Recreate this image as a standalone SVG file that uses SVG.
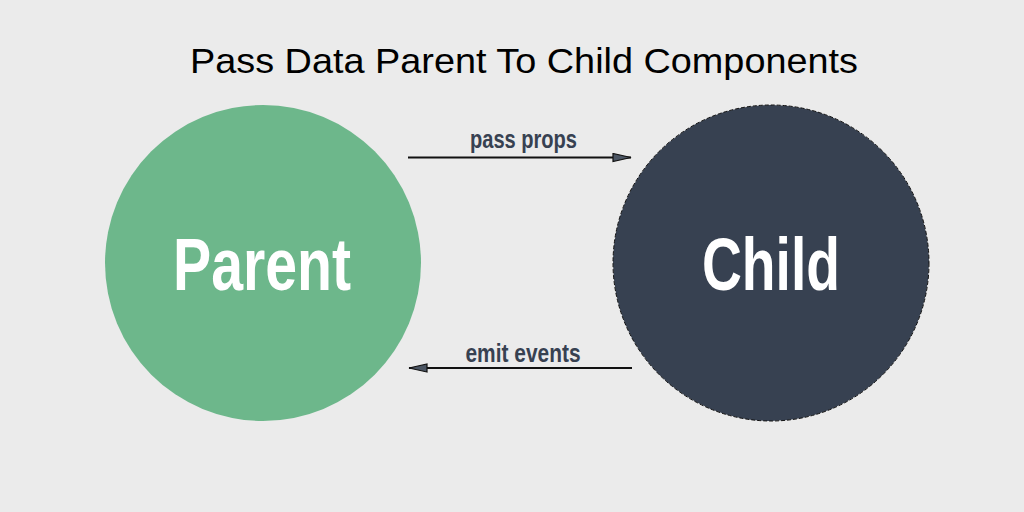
<svg xmlns="http://www.w3.org/2000/svg" width="1024" height="512" viewBox="0 0 1024 512">
  <style>
    .title { font-family: "Liberation Sans", Arial, sans-serif; font-size: 35px; fill: #000; }
    .node-label { font-family: "Liberation Sans", Arial, sans-serif; font-weight: bold; font-size: 75px; fill: #ffffff; }
    .edge-label { font-family: "Liberation Sans", Arial, sans-serif; font-weight: bold; font-size: 25px; fill: #374151; }
    .edge { stroke: #111; stroke-width: 2; fill: none; }
  </style>
  <defs>
    <marker id="arrow" viewBox="0 0 20 10" refX="19" refY="5" markerWidth="20" markerHeight="10" markerUnits="userSpaceOnUse" orient="auto">
      <path d="M1,1 L19,5 L1,9 Z" fill="#4b5563" stroke="#111" stroke-width="1.2"/>
    </marker>
  </defs>
  <rect width="1024" height="512" fill="#ebebeb"/>
  <text class="title" x="524" y="73" text-anchor="middle" textLength="668" lengthAdjust="spacingAndGlyphs">Pass Data Parent To Child Components</text>

  <g id="parent">
    <circle cx="263" cy="263" r="158" fill="#6db78b"/>
    <text class="node-label" x="262" y="290" text-anchor="middle" textLength="178" lengthAdjust="spacingAndGlyphs">Parent</text>
  </g>

  <g id="child">
    <circle cx="771" cy="263" r="158" fill="#374151" stroke="#111" stroke-width="1" stroke-dasharray="4 2"/>
    <text class="node-label" x="771" y="290" text-anchor="middle" textLength="138" lengthAdjust="spacingAndGlyphs">Child</text>
  </g>

  <g id="connectors">
    <line class="edge" x1="408" y1="157.5" x2="631" y2="157.5" marker-end="url(#arrow)"/>
    <text class="edge-label" x="523.5" y="148" text-anchor="middle" textLength="107" lengthAdjust="spacingAndGlyphs">pass props</text>
    <line class="edge" x1="632" y1="368" x2="409" y2="368" marker-end="url(#arrow)"/>
    <text class="edge-label" x="523" y="362" text-anchor="middle" textLength="115" lengthAdjust="spacingAndGlyphs">emit events</text>
  </g>
</svg>
